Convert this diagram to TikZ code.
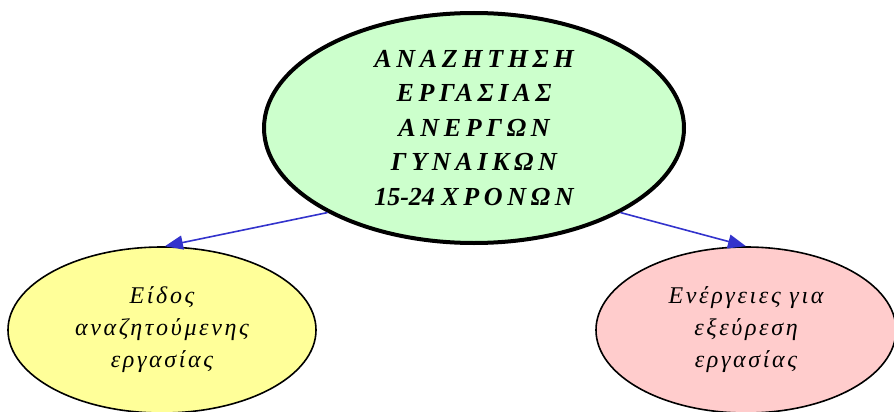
\documentclass[tikz,border=0pt]{standalone}
\usepackage{fontspec}
\setmainfont{Liberation Serif}
\newfontfamily\topfont[LetterSpace=18]{Liberation Serif}
\newfontfamily\plainfont{Liberation Serif}
\newfontfamily\lowfont[LetterSpace=11]{Liberation Serif}
\usetikzlibrary{shapes.geometric,arrows.meta}
\definecolor{topfill}{HTML}{CCFFCC}
\definecolor{leftfill}{HTML}{FFFF99}
\definecolor{rightfill}{HTML}{FFCCCC}
\definecolor{edgeblue}{HTML}{3333CC}
\tikzset{
  mainnode/.style={ellipse, draw=black, line width=4pt, fill=topfill, inner sep=0pt,
    minimum width=420pt, minimum height=230pt, align=center,
    font=\topfont\bfseries\itshape\fontsize{26}{34.5}\selectfont},
  subnode/.style={ellipse, draw=black, line width=1.6pt, inner sep=0pt,
    minimum height=166pt, align=center,
    font=\lowfont\itshape\fontsize{24}{32}\selectfont},
  edgearrow/.style={draw=edgeblue, line width=1.6pt,
    -{Triangle[length=18pt,width=14pt]}, color=edgeblue}
}
\begin{document}
\begin{tikzpicture}[x=1pt,y=1pt]
\useasboundingbox (0,0) rectangle (894,-412);
\node[mainnode] (top) at (474,-128) {ΑΝΑΖΗΤΗΣΗ\\ΕΡΓΑΣΙΑΣ\\ΑΝΕΡΓΩΝ\\ΓΥΝΑΙΚΩΝ\\{\plainfont 15-24 }ΧΡΟΝΩΝ};
\node[subnode, fill=leftfill, minimum width=308pt] (left) at (162,-330) {Είδος\\αναζητούμενης\\εργασίας};
\node[subnode, fill=rightfill, minimum width=300pt] (right) at (746,-330) {Ενέργειες για\\εξεύρεση\\εργασίας};
\draw[edgearrow] (top.210) -- (left.88);
\draw[edgearrow] (top.330) -- (right.north);
\end{tikzpicture}
\end{document}
